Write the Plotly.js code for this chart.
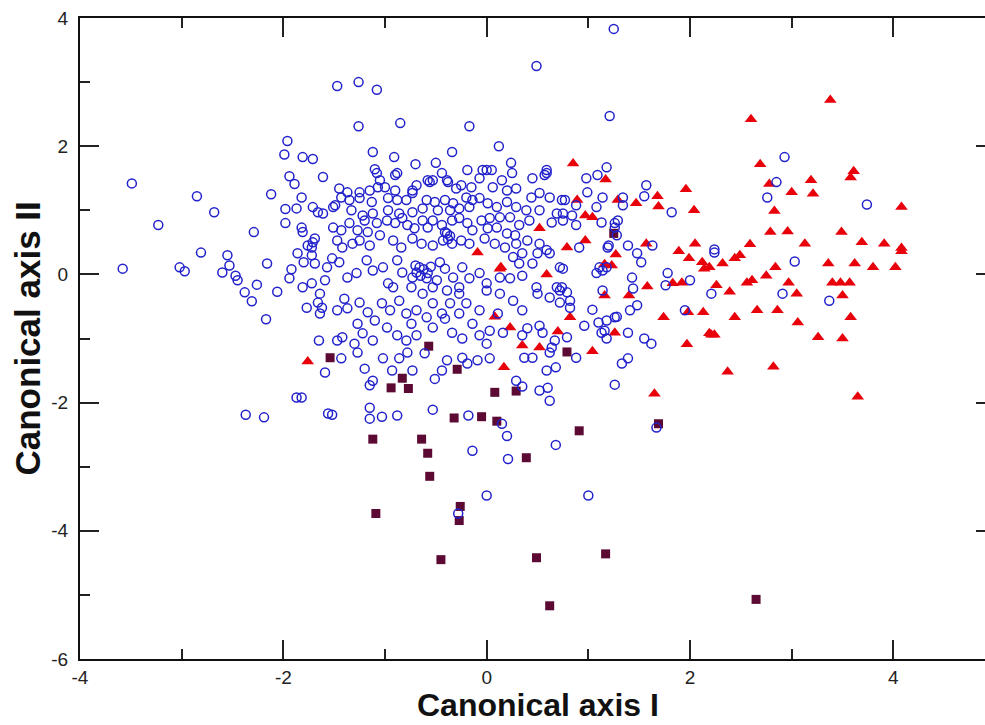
<!DOCTYPE html>
<html>
<head>
<meta charset="utf-8">
<script src="https://cdn.plot.ly/plotly-3.0.1.min.js"></script>
<style>
html,body{margin:0;padding:0;overflow:hidden;background:#fff;}
#chart{width:1010px;height:725px;}
</style>
</head>
<body>
<div id="chart"></div>
<script>
// Group 1: blue open circles
const circleX = [
-3.49,-2.85,-2.68,-3.23,-2.29,-2.12,-1.96,-1.99,-1.81,-1.71,-1.61,-1.94,-1.89,-1.82,-1.98,-1.87,-1.71,-1.66,-1.61,-1.98,-1.82,-1.81,-1.71,-1.72,
-3.58,-3.02,-2.97,-2.81,-2.55,-2.53,-2.60,-2.47,-2.45,-2.38,-2.31,-2.26,-2.16,-2.06,-2.17,-1.86,-1.76,-1.72,-1.69,-1.80,-1.92,-1.94,-1.81,-1.72,-1.64,-1.66,-1.62,-1.77,-1.59,-1.65,-1.59,-1.87,-1.82,-2.37,-2.19,-1.56,
1.25,0.49,-1.47,-1.26,-1.08,-1.26,-0.85,-0.17,1.21,0.12,-0.34,-1.12,-0.91,-0.70,-0.50,0.24,
-1.10,-1.08,-0.90,-0.19,-0.04,
-1.45,-1.37,-1.25,-1.15,-1.07,-1.00,-0.90,-0.73,-0.69,-0.53,-0.44,-0.38,-0.30,-0.25,-0.15,-0.07,0.00,-0.56,
-1.43,-1.35,-1.25,-1.13,-0.97,-0.88,-0.79,-0.73,-0.59,-0.51,-0.41,-0.33,-0.20,-0.14,-0.07,0.01,-0.63,-0.48,-0.36,-0.27,-0.17,
-1.49,-1.33,-1.22,-1.12,-0.97,-0.86,-0.73,
-1.51,-1.43,-1.35,-1.27,-1.20,-1.17,-1.08,-0.98,-0.90,-0.83,-0.78,-0.71,-0.63,-0.58,-0.53,-0.44,-0.39,-0.34,-0.27,-0.19,-0.14,-0.05,0.01,
-1.69,-1.47,-1.42,-1.32,-1.25,-1.15,-1.05,-0.92,-0.84,-0.73,-0.64,-0.53,-0.43,-0.34,-0.25,-0.17,
-1.57,-1.52,-1.45,-1.37,-1.28,-1.18,-1.12,-1.02,-0.97,-0.88,-0.83,-0.73,-0.66,-0.58,-0.49,-0.41,-0.33,-0.24,-0.17,-0.07,0.00,-0.74,-0.53,-0.27,
0.25,0.05,0.15,0.06,0.20,0.29,0.45,0.59,0.57,0.52,0.62,0.44,0.77,0.99,1.09,1.18,0.98,1.57,1.55,1.82,1.34,1.14,0.88,0.75,1.08,1.34,
0.10,0.20,0.29,0.39,0.52,0.64,0.75,0.88,0.69,0.84,1.13,1.29,1.26,1.28,0.03,0.13,0.23,0.32,0.42,0.10,0.20,0.28,-0.02,0.08,0.18,0.29,0.40,0.52,0.59,0.50,0.62,0.35,0.26,0.32,0.45,0.72,0.75,0.91,1.11,1.18,1.08,1.19,1.39,1.48,1.52,1.63,1.78,2.00,1.43,0.13,0.23,0.35,0.49,0.69,0.74,
2.93,2.85,2.76,3.74,2.24,
1.20,1.14,1.44,1.14,1.76,1.95,1.48,1.41,1.26,1.18,1.16,1.39,1.55,1.62,1.39,1.33,1.26,2.24,2.21,2.91,3.03,3.37,1.67,
-1.64,-1.47,-1.37,-1.40,-1.25,-1.17,-1.27,-1.22,-1.10,-1.03,-0.95,-0.92,-0.86,-0.79,-0.74,-0.69,-0.63,-0.59,-0.53,-0.53,-0.44,-0.36,-0.39,-0.27,-0.20,-0.14,-0.07,-0.27,-0.41,-0.07,-0.24,-0.34,-0.69,-0.79,-0.88,-0.98,-1.12,-1.30,-1.27,-1.47,-1.42,-1.43,-1.02,-0.86,-0.78,-0.61,-1.20,-1.12,-1.15,-0.93,-0.73,-0.39,-0.24,-0.19,-0.44,-0.51,-0.09,
-1.52,-1.15,-1.15,-1.03,-0.88,-0.53,-0.18,0.15,0.20,-0.14,0.21,0.68,0.00,1.00,-0.28,
0.00,0.13,0.26,0.35,0.11,0.03,0.00,0.03,0.16,0.35,0.40,0.52,0.55,0.50,0.62,0.72,0.79,0.82,0.72,0.82,0.67,0.64,0.79,0.37,0.45,0.62,0.88,0.68,0.59,0.29,0.35,0.52,0.60,0.62,0.96,1.04,1.10,1.13,1.18,1.28,
-1.51,-1.05,-0.88,-0.58,-0.39,0.59,0.74,
-0.41,-0.36,-0.38,-0.70,-0.62,-0.55,-0.65,1.26,-0.59,-0.46,-0.69
];
const circleY = [
1.42,1.22,0.97,0.77,0.66,1.25,2.08,1.87,1.83,1.80,1.52,1.53,1.41,1.20,1.02,1.03,1.05,0.97,0.95,0.80,0.73,0.66,0.50,0.42,
0.09,0.11,0.05,0.34,0.30,0.14,0.03,-0.02,-0.09,-0.28,-0.42,-0.16,0.17,-0.27,-0.70,0.33,0.45,0.30,0.17,0.19,0.08,-0.06,-0.20,-0.14,-0.30,-0.44,-0.52,-0.52,-0.09,-1.03,-1.53,-1.92,-1.92,-2.19,-2.23,-2.17,
3.83,3.25,2.94,3.00,2.88,2.31,2.36,2.31,2.47,2.00,1.91,1.91,1.83,1.72,1.74,1.74,
1.64,1.58,1.55,1.63,1.63,
1.34,1.28,1.28,1.31,1.36,1.36,1.31,1.31,1.39,1.47,1.58,1.44,1.34,1.39,1.36,1.50,1.63,1.44,
1.20,1.16,1.19,1.13,1.19,1.16,1.16,1.27,1.16,1.13,1.16,1.11,1.20,1.16,1.19,1.11,1.03,1.00,1.00,1.03,1.05,
1.08,1.00,0.92,0.95,1.00,0.95,0.97,
0.73,0.69,0.80,0.69,0.84,0.66,0.80,0.84,0.80,0.88,0.77,0.72,0.84,0.73,0.84,0.77,0.64,0.84,0.88,0.80,0.69,0.84,0.72,
0.56,0.53,0.42,0.48,0.53,0.45,0.61,0.53,0.42,0.56,0.48,0.45,0.53,0.48,0.53,0.48,
0.11,0.25,0.19,-0.05,0.02,0.22,0.06,0.11,-0.14,0.22,0.03,-0.05,0.11,0.02,-0.09,0.09,-0.05,0.11,-0.06,0.02,-0.14,-0.20,-0.20,-0.20,
1.58,1.63,1.47,1.36,1.31,1.34,1.50,1.63,1.55,1.27,1.20,1.20,1.16,1.28,1.55,1.67,1.50,1.39,1.22,0.97,1.20,1.20,1.08,0.95,1.05,1.08,
1.05,1.13,1.05,1.00,1.00,0.81,0.84,0.77,0.95,0.92,0.81,0.84,0.73,0.61,0.88,0.89,0.89,0.77,0.84,0.73,0.64,0.61,0.56,0.48,0.42,0.48,0.53,0.48,0.38,0.33,0.33,0.33,0.27,0.17,0.17,0.11,0.09,0.42,0.11,0.11,0.02,0.42,0.45,0.33,0.19,0.45,0.02,-0.09,-0.05,-0.05,-0.06,-0.02,-0.20,-0.20,-0.20,
1.83,1.44,1.20,1.09,0.39,
0.45,0.06,-0.22,-0.25,-0.17,-0.56,-0.48,-0.56,-0.67,-0.72,-0.88,-0.91,-1.00,-1.08,-1.31,-1.39,-1.72,0.34,-0.30,-0.30,0.20,-0.41,-2.39,
-0.61,-0.56,-0.53,-0.38,-0.44,-0.59,-0.77,-0.92,-0.72,-0.45,-0.56,-0.20,-0.41,-0.61,-0.77,-0.56,-0.30,-0.67,-0.83,-0.45,-0.61,-0.45,-0.25,-0.30,-0.45,-0.77,-0.56,-0.61,-0.69,-0.95,-1.00,-0.91,-0.95,-1.03,-0.95,-0.83,-1.03,-1.08,-1.22,-1.03,-0.98,-1.31,-1.31,-1.31,-1.22,-1.23,-1.47,-1.66,-1.73,-1.50,-1.50,-1.34,-1.30,-1.39,-1.50,-1.63,-1.34,
-2.19,-2.08,-2.25,-2.22,-2.20,-2.11,-2.20,-2.33,-2.52,-2.75,-2.88,-2.66,-3.45,-3.45,-3.73,
-0.25,-0.30,-0.41,-0.56,-0.61,-0.88,-1.08,-1.31,-0.91,-0.95,-0.84,-0.80,-0.91,-0.30,-0.36,-0.25,-0.28,-0.41,-0.44,-0.52,-1.03,-1.14,-0.98,-1.30,-1.30,-1.22,-1.30,-1.45,-1.50,-1.66,-1.75,-1.81,-1.77,-1.97,-0.80,-0.55,-0.75,-0.91,-1.00,-0.66,
1.05,1.47,1.58,1.47,1.47,1.58,1.16,
0.66,0.60,0.55,0.14,0.08,0.12,-0.02,0.80,-0.06,0.19,0.03
];

// Group 2: red filled triangles
const triX = [3.38,2.60,2.69,2.78,3.61,3.58,3.19,3.00,3.21,1.96,2.04,2.83,4.08,1.68,1.69,1.47,1.17,2.79,2.96,3.49,2.59,2.05,3.13,3.69,3.91,4.08,1.57,
0.85,0.89,0.97,1.04,1.29,0.52,0.97,0.79,1.27,1.89,1.99,2.12,2.14,1.16,1.23,0.14,0.59,1.58,1.83,1.92,
1.16,1.40,1.74,1.98,2.13,2.19,1.97,0.08,0.23,0.70,0.82,0.35,0.52,1.04,1.26,0.17,1.65,-1.76,-0.09,0.13,
2.19,2.32,2.44,2.49,4.08,2.84,2.75,2.56,2.61,2.97,3.05,3.36,3.62,3.80,4.02,3.40,3.48,3.57,3.50,3.58,3.26,3.50,3.06,2.86,2.66,2.44,2.21,2.24,2.37,2.82,3.65,2.26,2.39];
const triY = [2.72,2.42,1.72,1.41,1.61,1.51,1.47,1.28,1.26,1.33,1.00,0.99,1.05,1.22,1.06,1.11,1.48,0.66,0.67,0.66,0.47,0.48,0.48,0.50,0.48,0.36,0.48,
1.73,1.16,0.92,0.89,1.16,0.72,0.53,0.42,0.31,0.36,0.25,0.19,0.09,0.16,0.14,0.11,0.00,-0.19,-0.14,-0.13,
-0.33,-0.33,-0.67,-0.59,-0.59,-0.92,-1.09,-0.66,-0.83,-0.89,-0.67,-1.11,-1.14,-1.20,-0.91,-1.45,-1.86,-1.36,0.34,0.09,
0.11,0.17,0.25,0.30,0.41,0.11,-0.02,-0.13,-0.09,-0.13,-0.30,0.17,0.17,0.11,0.11,-0.13,-0.13,-0.13,-0.33,-0.67,-0.98,-1.00,-0.75,-0.56,-0.56,-0.67,-0.94,-0.94,-1.52,-1.44,-1.91,-0.17,-0.27];

// Group 3: dark maroon filled squares
const sqX = [-1.54,-0.57,-0.83,-0.94,-0.77,-0.29,0.08,0.29,0.79,-0.32,-0.05,0.10,0.91,1.69,-1.12,-0.64,-0.58,0.39,-0.56,-0.26,-0.27,-1.09,-0.45,0.49,1.17,0.62,2.65,1.25];
const sqY = [-1.30,-1.12,-1.62,-1.77,-1.78,-1.48,-1.84,-1.82,-1.21,-2.24,-2.22,-2.29,-2.44,-2.33,-2.57,-2.57,-2.79,-2.86,-3.15,-3.62,-3.84,-3.73,-4.45,-4.42,-4.36,-5.17,-5.07,0.64];

// Tick labels (plain hyphen minus as in the reference)
const xTickVals = [-4, -2, 0, 2, 4];
const xTickText = ['-4', '-2', '0', '2', '4'];
const yTickVals = [-6, -4, -2, 0, 2, 4];
const yTickText = ['-6', '-4', '-2', '0', '2', '4'];

const xTitle = 'Canonical axis I';
const yTitle = 'Canonical axis II';

const traces = [
  {x: triX, y: triY, type: 'scatter', mode: 'markers', name: 'triangles',
   marker: {symbol: 'triangle-up', size: 11, color: '#e8000b', line: {width: 0}}},
  {x: sqX, y: sqY, type: 'scatter', mode: 'markers', name: 'squares',
   marker: {symbol: 'square', size: 9, color: '#5c0a33', line: {width: 0}}},
  {x: circleX, y: circleY, type: 'scatter', mode: 'markers', name: 'circles',
   marker: {symbol: 'circle-open', size: 9, color: '#2222cc', line: {width: 1.5, color: '#2222cc'}}}
];

const axisCommon = {
  showgrid: false, zeroline: false,
  showline: true, linecolor: '#111', linewidth: 2, mirror: 'ticks',
  ticks: 'inside', ticklen: 19, tickwidth: 2, tickcolor: '#222',
  tickmode: 'array',
  tickfont: {family: 'Liberation Sans, Arial, sans-serif', size: 19, color: '#222'},
  minor: {ticks: 'inside', ticklen: 10, tickwidth: 2, tickcolor: '#222', tickmode: 'linear', tick0: 0, dtick: 1, showgrid: false}
};

const layout = {
  width: 1010, height: 725,
  margin: {l: 80, r: 15, t: 18, b: 66},
  paper_bgcolor: '#fff', plot_bgcolor: '#fff',
  showlegend: false,
  xaxis: Object.assign({}, axisCommon, {range: [-4, 5], tickvals: xTickVals, ticktext: xTickText, ticklabelstandoff: 0}),
  yaxis: Object.assign({}, axisCommon, {range: [-6, 4], tickvals: yTickVals, ticktext: yTickText, ticklabelstandoff: 6}),
  annotations: [
    {text: xTitle, xref: 'paper', yref: 'paper', x: 0.5, y: 0, xanchor: 'center', yanchor: 'top',
     yshift: -27, showarrow: false, borderpad: 0,
     font: {family: 'Liberation Sans, Arial, sans-serif', size: 32, color: '#111', weight: 'bold'}},
    {text: yTitle, xref: 'paper', yref: 'paper', x: 0, y: 0.5, xanchor: 'center', yanchor: 'middle',
     xshift: -53, textangle: -90, showarrow: false,
     font: {family: 'Liberation Sans, Arial, sans-serif', size: 35, color: '#111', weight: 'bold'}}
  ]
};

Plotly.newPlot('chart', traces, layout, {staticPlot: true, displayModeBar: false});
</script>
</body>
</html>
